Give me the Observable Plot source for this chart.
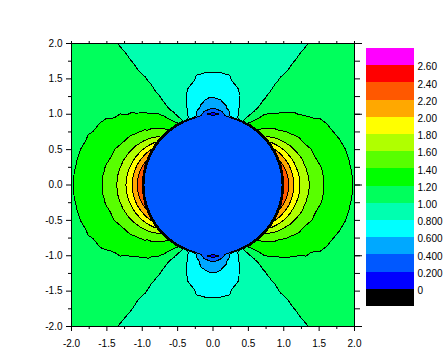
<!DOCTYPE html>
<html><head><meta charset="utf-8">
<script src="https://cdn.jsdelivr.net/npm/d3@7"></script>
<script src="https://cdn.jsdelivr.net/npm/@observablehq/plot@0.6"></script>
<style>
html,body{margin:0;padding:0;background:#fff;}
#wrap{position:relative;width:444px;height:351px;overflow:hidden;font-family:"Liberation Sans",Arial,sans-serif;}
#main{position:absolute;left:0;top:0;}
#legend{position:absolute;left:360px;top:40px;}
</style></head>
<body><div id="wrap"><div id="main"></div><div id="legend"></div></div>
<script>
// contour levels (legend boundaries) and band colours (below 0, 0-0.2, ..., >=2.6)
const levels = [0, 0.2, 0.4, 0.6, 0.8, 1, 1.2, 1.4, 1.6, 1.8, 2, 2.2, 2.4, 2.6];
const levelColors = ["#000000","#0000ff","#0058ff","#00a8ff","#00ffff","#00ffb0","#00ff5c","#00ff00",
  "#58ff00","#b0ff00","#ffff00","#ffa800","#ff5800","#ff0000","#ff00ff"];
const legendLabels = ["0","0.200","0.400","0.600","0.800","1.00","1.20","1.40","1.60","1.80","2.00","2.20","2.40","2.60"];

// axis ticks
const majorTicks = [-2, -1.5, -1, -0.5, 0, 0.5, 1, 1.5, 2];
const minorTicks = [-1.75, -1.25, -0.75, -0.25, 0.25, 0.75, 1.25, 1.75];
const quarterTicks = [-2, -1.75, -1.5, -1.25, -1, -0.75, -0.5, -0.25, 0, 0.25, 0.5, 0.75, 1, 1.25, 1.5, 1.75, 2];
const unitTicks = [-2, -1, 0, 1, 2];

// field values read from the picture, sampled along rays
// (angle in degrees from the +y axis, one quadrant; the picture is symmetric)
const sampleAngles = [0, 5, 10, 15, 20, 25, 30, 35, 40, 45, 50, 55, 60, 65, 70, 75, 80, 85, 90];
const sampleRadii = [1.0, 1.03, 1.06, 1.1, 1.15, 1.2, 1.26, 1.33, 1.41, 1.5, 1.6, 1.72, 1.86, 2.02, 2.2, 2.45, 2.9];
const speedTable = [
  [0.10, 0.217, 0.334, 0.430, 0.495, 0.561, 0.617, 0.657, 0.703, 0.754, 0.803, 0.823, 0.847, 0.871, 0.877, 0.885, 0.90],
  [0.18, 0.294, 0.403, 0.457, 0.525, 0.593, 0.631, 0.670, 0.715, 0.766, 0.806, 0.825, 0.848, 0.871, 0.877, 0.885, 0.90],
  [0.42, 0.474, 0.528, 0.600, 0.625, 0.650, 0.680, 0.715, 0.755, 0.800, 0.814, 0.831, 0.850, 0.871, 0.877, 0.885, 0.90],
  [0.66, 0.671, 0.682, 0.697, 0.716, 0.734, 0.756, 0.782, 0.804, 0.814, 0.825, 0.838, 0.854, 0.871, 0.878, 0.886, 0.90],
  [0.78, 0.801, 0.81, 0.82, 0.83, 0.837, 0.85, 0.865, 0.875, 0.88, 0.885, 0.89, 0.895, 0.90, 0.905, 0.91, 0.915],
  [1.0, 0.97, 0.94, 0.905, 0.87, 0.855, 0.86, 0.87, 0.875, 0.88, 0.885, 0.89, 0.895, 0.90, 0.905, 0.91, 0.92],
  [1.22, 1.186, 1.158, 1.121, 1.074, 1.028, 0.995, 0.985, 0.975, 0.968, 0.962, 0.958, 0.955, 0.953, 0.951, 0.95, 0.95],
  [1.33, 1.307, 1.284, 1.254, 1.215, 1.191, 1.173, 1.152, 1.131, 1.101, 1.085, 1.063, 1.04, 1.029, 1.023, 1.015, 1.006],
  [1.44, 1.395, 1.374, 1.346, 1.311, 1.277, 1.235, 1.194, 1.17, 1.15, 1.13, 1.11, 1.095, 1.08, 1.07, 1.06, 1.05],
  [1.56, 1.519, 1.478, 1.423, 1.379, 1.347, 1.308, 1.264, 1.213, 1.175, 1.155, 1.135, 1.12, 1.105, 1.095, 1.085, 1.07],
  [1.72, 1.652, 1.591, 1.537, 1.471, 1.404, 1.367, 1.327, 1.281, 1.229, 1.18, 1.16, 1.145, 1.13, 1.115, 1.10, 1.08],
  [1.88, 1.805, 1.737, 1.647, 1.564, 1.501, 1.427, 1.375, 1.334, 1.288, 1.236, 1.18, 1.16, 1.14, 1.125, 1.105, 1.085],
  [2.02, 1.940, 1.858, 1.762, 1.662, 1.578, 1.507, 1.425, 1.372, 1.330, 1.284, 1.228, 1.18, 1.155, 1.135, 1.115, 1.09],
  [2.13, 2.049, 1.969, 1.863, 1.752, 1.660, 1.570, 1.491, 1.401, 1.359, 1.314, 1.259, 1.195, 1.16, 1.135, 1.115, 1.09],
  [2.22, 2.135, 2.056, 1.952, 1.823, 1.730, 1.627, 1.541, 1.454, 1.382, 1.336, 1.282, 1.218, 1.146, 1.13, 1.115, 1.095],
  [2.28, 2.211, 2.131, 2.021, 1.893, 1.778, 1.681, 1.579, 1.494, 1.399, 1.354, 1.300, 1.236, 1.164, 1.143, 1.122, 1.10],
  [2.32, 2.255, 2.186, 2.074, 1.942, 1.817, 1.717, 1.607, 1.522, 1.428, 1.366, 1.310, 1.244, 1.17, 1.148, 1.127, 1.103],
  [2.34, 2.276, 2.213, 2.106, 1.971, 1.847, 1.737, 1.629, 1.538, 1.445, 1.373, 1.316, 1.249, 1.178, 1.153, 1.13, 1.105],
  [2.35, 2.286, 2.221, 2.117, 1.980, 1.857, 1.744, 1.637, 1.543, 1.451, 1.376, 1.318, 1.251, 1.18, 1.155, 1.135, 1.11]
];
// inside the cylinder (masked value)
const interiorRadii = [0, 0.5, 0.8, 0.975];
const interiorValue = 0.3;

// build the scattered sample table (mirror the quadrant into all four)
const points = [];
const seen = new Set();
function addPoint(x, y, v) {
  const k = Math.round(x * 1e5) + "," + Math.round(y * 1e5);
  if (seen.has(k)) return;
  seen.add(k);
  points.push({x, y, v});
}
sampleAngles.forEach((a, i) => {
  const t = a * Math.PI / 180, s = Math.sin(t), c = Math.cos(t);
  for (const sx of [-1, 1]) for (const sy of [-1, 1]) {
    sampleRadii.forEach((r, j) => addPoint(sx * r * s, sy * r * c, speedTable[i][j]));
    interiorRadii.forEach(r => addPoint(sx * r * s, sy * r * c, interiorValue));
  }
});

const fmt = d => d.toFixed(1);
const font = '"Liberation Sans", Arial, sans-serif';

const main = Plot.plot({
  width: 444, height: 351,
  marginLeft: 71, marginRight: 90, marginTop: 43, marginBottom: 25,
  style: {fontFamily: font, fontSize: "10px", color: "black", background: "white"},
  x: {domain: [-2, 2], label: null},
  y: {domain: [-2, 2], label: null},
  color: {type: "threshold", domain: levels, range: levelColors},
  marks: [
    Plot.contour(points, {x: "x", y: "y", fill: "v", interpolate: "barycentric",
      thresholds: levels, pixelSize: 1, stroke: "black", strokeWidth: 1, shapeRendering: "crispEdges"}),
    Plot.frame({stroke: "black"}),
    Plot.axisX(majorTicks, {anchor: "bottom", tickSize: 5, tickPadding: 8, tickFormat: fmt, label: null}),
    Plot.axisX(minorTicks, {anchor: "bottom", tickSize: 3, fill: "none", label: null}),
    Plot.axisX(quarterTicks, {anchor: "top", tickSize: 3, fill: "none", label: null}),
    Plot.axisY(majorTicks, {anchor: "left", tickSize: 5, tickPadding: 4, tickFormat: fmt, label: null}),
    Plot.axisY(minorTicks, {anchor: "left", tickSize: 3, fill: "none", label: null}),
    Plot.axisY(quarterTicks, {anchor: "right", tickSize: 5, fill: "none", label: null}),
    Plot.axisY(unitTicks, {anchor: "right", tickSize: 7, fill: "none", label: null})
  ]
});
document.getElementById("main").appendChild(main);

const legendBins = levelColors.map((c, i) => ({bin: i, color: c}));
const legend = Plot.plot({
  width: 84, height: 270, margin: 0,
  style: {fontFamily: font, fontSize: "10px", color: "black", background: "transparent", overflow: "visible"},
  x: {domain: [0, 1], range: [6, 54], axis: null},
  y: {domain: [0, 15], range: [266, 8], axis: null},
  color: {type: "identity"},
  marks: [
    Plot.rect(legendBins, {x1: 0, x2: 1, y1: "bin", y2: d => d.bin + 1, fill: "color", shapeRendering: "crispEdges"}),
    Plot.text(legendLabels, {x: 1, y: (d, i) => i + 1, text: d => d, textAnchor: "start", dx: 3, dy: 1.5, fill: "black"})
  ]
});
document.getElementById("legend").appendChild(legend);
</script>
</body></html>
